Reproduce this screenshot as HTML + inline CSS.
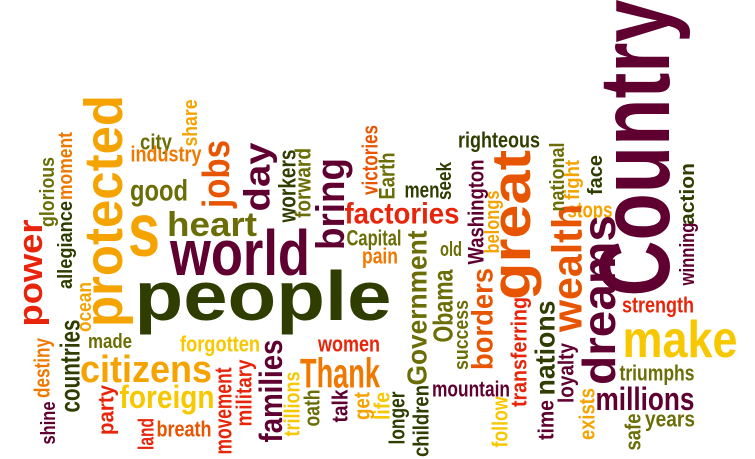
<!DOCTYPE html>
<html><head><meta charset="utf-8">
<style>
html,body{margin:0;padding:0;background:#fff;}
svg{display:block;}
text{font-family:"Liberation Sans Narrow","Liberation Sans",sans-serif;font-weight:bold;}
</style></head>
<body>
<svg id="cloud" width="755" height="459" viewBox="0 0 755 459" xmlns="http://www.w3.org/2000/svg"></svg>
<script>
const words = ["people","world","heart","good","s","city","industry","factories","righteous","men","Capital","pain","old","women","forgotten","made","citizens","foreign","breath","Thank","mountain","millions","years","triumphs","make","strength","stops",
"Country","great","dreams","wealth","protected","jobs","day","bring","workers","forward","share","victories","Earth","seek","Washington","belongs","national","fight","face","action","winning","moment","glorious","allegiance","power","ocean","countries","destiny","shine","party","land","movement","military","families","trillions","oath","talk","get","life","longer","children","Government","Obama","success","borders","transferring","follow","nations","time","loyalty","exists","safe"];
const cxs = [263,240,212,159,144,156,166,402,499,422,374,380,451,349,220,110,146,167,184,340,471,645,670,657,680,658,590,
635,511,599,567,104,217,257,331,288,303,191,370,387,445,476,493,558,573,596,688,688,66,48,66,31,85,70,42,49,106,146,224,244,271,292,312,340,362,382,397,421,417,443,462,483,519,500,545,546,566,587,633];
const cys = [296,253,225,191,230,142,154,214,140,190,238,256,250,344,344,342,370,397,429,373,389,399,419,373,340,305,210,
148,225,300,268,211,174,177,204,186,183,123,160,176,181,212,222,177,180,175,194,254,166,192,245,273,307,366,368,423,410,434,411,393,391,404,408,406,406,406,418,421,308,306,335,319,352,422,348,420,373,414,432];
const sizes = [70,64,34,30,75,22,22,30,22,22,22,22,20,22,22,20,38,32,22,42,22,32,22,22,52,22,22,
100,55,46,42,54,38,36,40,24,22,20,22,22,20,22,20,20,20,20,20,20,20,20,20,34,20,28,22,20,22,22,24,22,32,22,22,22,22,22,22,22,28,28,20,30,22,22,28,22,22,22,22];
const lengths = [257,140,90,58,32,32,71,115,82,35,55,36,22,62,80,44,132,95,55,80,78,99,50,75,115,72,45,
297,150,170,128,232,68,69,92,73,70,47,70,47,38,105,63,69,40,40,62,63,68,70,88,107,50,93,60,43,50,32,87,67,103,65,37,33,28,28,53,72,155,73,70,102,110,51,95,40,60,52,37];
const vertical = [0,0,0,0,0,0,0,0,0,0,0,0,0,0,0,0,0,0,0,0,0,0,0,0,0,0,0,
1,1,1,1,1,1,1,1,1,1,1,1,1,1,1,1,1,1,1,1,1,1,1,1,1,1,1,1,1,1,1,1,1,1,1,1,1,1,1,1,1,1,1,1,1,1,1,1,1,1,1,1];
const M="#5f0030",G="#2f3d00",O="#6b6e06",Y="#f5a300",DO="#ef7800",R="#e8240a",RO="#e85500",YL="#f7c700";
const colors = [G,M,O,O,Y,O,DO,R,G,G,O,DO,O,R,YL,O,Y,YL,RO,DO,M,M,O,O,YL,R,Y,
M,RO,M,RO,Y,RO,M,M,G,O,Y,RO,O,G,M,Y,O,Y,G,G,M,DO,O,G,R,Y,G,DO,M,R,R,R,R,M,YL,O,M,Y,YL,G,G,O,O,O,RO,R,YL,G,M,M,Y,O];

const svg = document.getElementById('cloud');
const NS = "http://www.w3.org/2000/svg";
for (let i = 0; i < words.length; i++) {
  const t = document.createElementNS(NS, 'text');
  
  
  t.setAttribute('x', cxs[i]);
  t.setAttribute('y', cys[i]);
  t.setAttribute('font-size', sizes[i]);
  t.setAttribute('fill', colors[i]);
  t.setAttribute('text-anchor', 'middle');
  t.setAttribute('dominant-baseline', 'central');
  t.setAttribute('textLength', lengths[i]);
  t.setAttribute('lengthAdjust', 'spacingAndGlyphs');
  if (vertical[i]) t.setAttribute('transform', 'rotate(-90 ' + cxs[i] + ' ' + cys[i] + ')');
  t.textContent = words[i];
  svg.appendChild(t);
}
</script>
</body></html>
